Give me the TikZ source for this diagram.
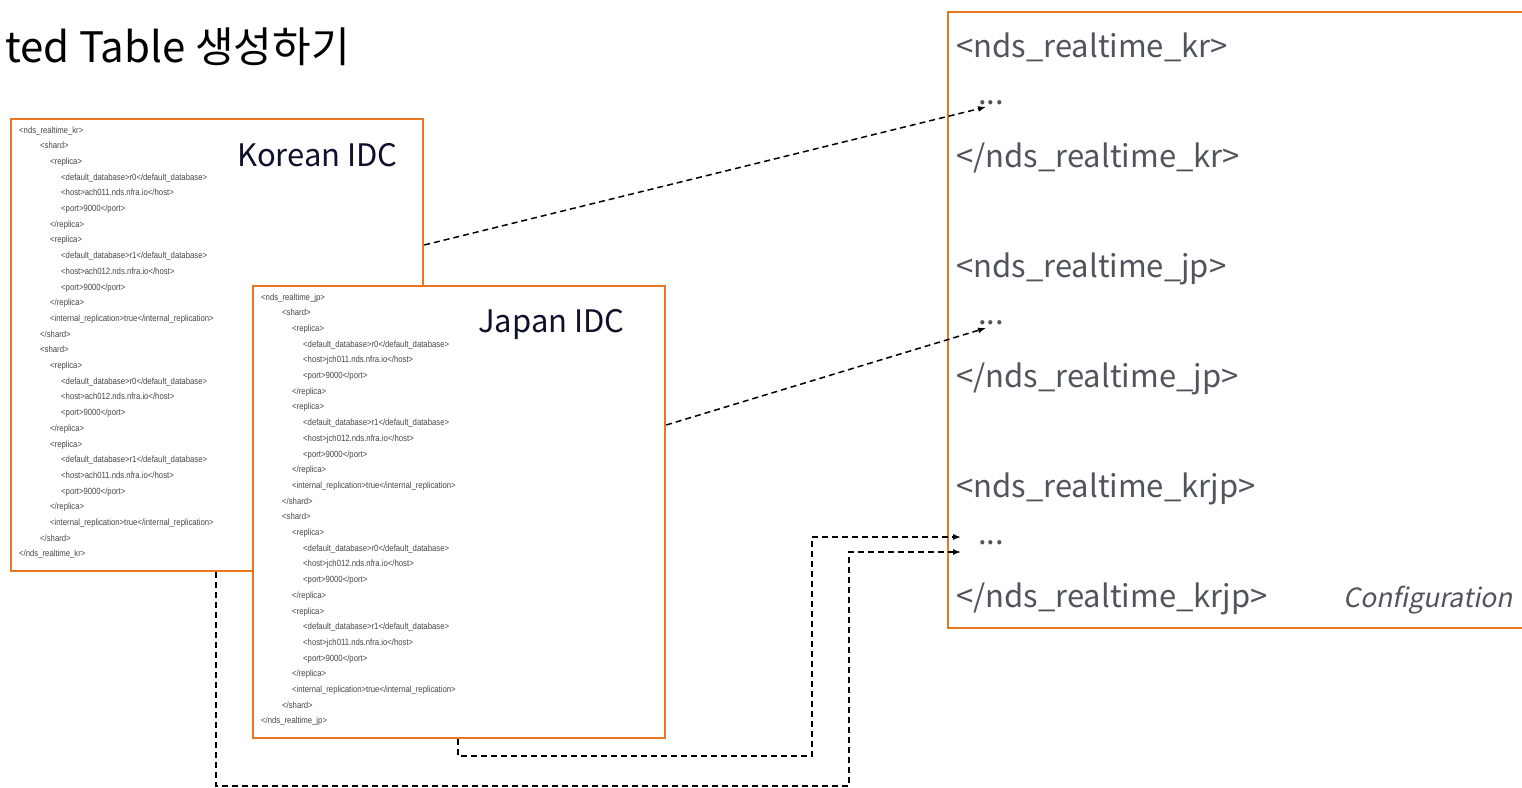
\documentclass[tikz,border=0pt]{standalone}
\usepackage{fontspec}
\setmainfont{Noto Sans CJK KR}
\newfontfamily\xmlfont[FakeStretch=0.86]{Liberation Sans}
\newfontfamily\slantfont[FakeSlant=0.2]{Noto Sans CJK KR}
\usetikzlibrary{arrows.meta}

\definecolor{boxorange}{RGB}{232,119,34}
\definecolor{idcnavy}{RGB}{14,16,44}
\definecolor{cfggray}{RGB}{80,84,92}
\definecolor{xmlgray}{RGB}{70,70,70}

\tikzset{
  xmlbox/.style={draw=boxorange, line width=2.2pt, fill=white, inner sep=0pt, anchor=north west},
  xmlline/.style={anchor=base west, inner sep=0pt, text=xmlgray, font=\xmlfont\fontsize{9}{10}\selectfont},
  idclabel/.style={anchor=base west, inner sep=0pt, text=idcnavy, font=\fontsize{31}{36}\selectfont},
  cfgline/.style={anchor=base west, inner sep=0pt, text=cfggray, font=\fontsize{31}{37}\selectfont},
  link/.style={draw=black, line width=1.5pt, dash pattern=on 6pt off 4pt, -{Latex[length=8pt,width=6pt]}}
}

% One cluster definition: #1 prefix for node names, (#2,#3) baseline of first line,
% #4 table tag, #5 host prefix
\newcommand{\clusterxml}[5]{%
  \foreach \ind/\txt [count=\i from 0] in {
    0/{<#4>},
    21/{<shard>},
    31/{<replica>},
    42/{<default\_database>r0</default\_database>},
    42/{<host>#5011.nds.nfra.io</host>},
    42/{<port>9000</port>},
    31/{</replica>},
    31/{<replica>},
    42/{<default\_database>r1</default\_database>},
    42/{<host>#5012.nds.nfra.io</host>},
    42/{<port>9000</port>},
    31/{</replica>},
    31/{<internal\_replication>true</internal\_replication>},
    21/{</shard>},
    21/{<shard>},
    31/{<replica>},
    42/{<default\_database>r0</default\_database>},
    42/{<host>#5012.nds.nfra.io</host>},
    42/{<port>9000</port>},
    31/{</replica>},
    31/{<replica>},
    42/{<default\_database>r1</default\_database>},
    42/{<host>#5011.nds.nfra.io</host>},
    42/{<port>9000</port>},
    31/{</replica>},
    31/{<internal\_replication>true</internal\_replication>},
    21/{</shard>},
    0/{</#4>}
  }{
    \node[xmlline] (#1line\i) at ({#2+\ind},{#3+15.7*\i}) {\txt};
  }%
}

\begin{document}
\begin{tikzpicture}[x=1pt, y=-1pt]
  \useasboundingbox (0,0) rectangle (1522,787);
  \clip (0,0) rectangle (1522,787);

  % heading
  \node[anchor=base west, inner sep=0pt, font=\fontsize{42}{48}\selectfont] (title) at (5,62) {ted Table 생성하기};

  % Korean cluster definition
  \node[xmlbox, minimum width=412pt, minimum height=452pt] (kr) at (10,118) {};
  \clusterxml{kr}{19}{133}{nds\_realtime\_kr}{ach}
  \node[idclabel] (krlabel) at (237,166) {Korean IDC};

  % Japan cluster definition
  \node[xmlbox, minimum width=412pt, minimum height=452pt] (jp) at (252,285) {};
  \clusterxml{jp}{261}{300}{nds\_realtime\_jp}{jch}
  \node[idclabel] (jplabel) at (478,332) {Japan IDC};

  % resulting configuration
  \node[xmlbox, minimum width=600pt, minimum height=616pt] (cfg) at (947,11) {};
  \node[cfgline] (krOpen)   at (956,57)  {<nds\_realtime\_kr>};
  \node[cfgline] (krDots)   at (978,104) {...};
  \node[cfgline] (krClose)  at (956,167) {</nds\_realtime\_kr>};
  \node[cfgline] (jpOpen)   at (956,277) {<nds\_realtime\_jp>};
  \node[cfgline] (jpDots)   at (978,324) {...};
  \node[cfgline] (jpClose)  at (956,387) {</nds\_realtime\_jp>};
  \node[cfgline] (kjOpen)   at (956,497) {<nds\_realtime\_krjp>};
  \node[cfgline] (kjDots)   at (978,544) {...};
  \node[cfgline] (kjClose)  at (956,607) {</nds\_realtime\_krjp>};
  \node[anchor=base west, inner sep=0pt, text=cfggray, font=\slantfont\fontsize{26.5}{32}\selectfont] (cfgname) at (1343,607) {Configuration};

  % arrow end points beside the ellipses
  \coordinate (krIn) at (986,107);
  \coordinate (jpIn) at (986,328);
  \coordinate (kjInA) at (961,537);
  \coordinate (kjInB) at (961,552);

  % table definitions copied into the configuration
  \draw[link] (kr.east |- 0,245) -- (krIn);
  \draw[link] (jp.east |- 0,425) -- (jpIn);
  \draw[link] (jp.south -| 458,0) -- (458,756) -- (812,756) |- (kjInA);
  \draw[link] (kr.south -| 216,0) -- (216,786) -- (849,786) |- (kjInB);
\end{tikzpicture}
\end{document}
